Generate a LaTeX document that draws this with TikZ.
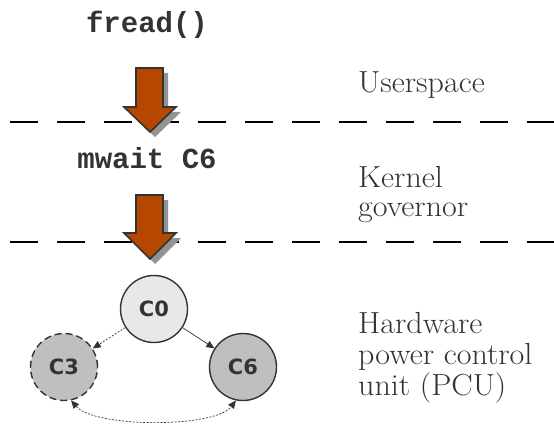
\documentclass[tikz,border=0pt]{standalone}
\usepackage{fontspec}
\setmainfont{Latin Modern Roman}
\newfontfamily\lblfont[FakeStretch=1.05]{Latin Modern Roman}
\newfontfamily\codefont{Liberation Mono}
\newfontfamily\statefont{DejaVu Sans}
\usetikzlibrary{arrows.meta}
\definecolor{txtgray}{HTML}{333333}
\definecolor{lblgray}{HTML}{333333}
\definecolor{arrowfill}{HTML}{B54700}
\begin{document}
\begin{tikzpicture}[x=1pt,y=-1pt,
  code/.style={font=\codefont\bfseries\fontsize{29}{30}\selectfont, text=txtgray, inner sep=0pt, anchor=base},
  lbl/.style={font=\lblfont\fontsize{30.5}{31}\selectfont, text=lblgray, anchor=base west, inner sep=0pt},
  sepline/.style={line width=1.6pt, dash pattern=on 28pt off 19pt},
  state/.style={circle, draw=txtgray, line width=1.4pt, minimum size=67pt, inner sep=0pt, font=\statefont\bfseries\fontsize{21}{22}\selectfont, text=txtgray},
  conn/.style={-{Triangle[length=8pt,width=7pt]}, line width=0.7pt, draw=txtgray},
  dots/.style={dash pattern=on 2pt off 1.5pt},
  blockarrow/.style={fill=arrowfill, draw=txtgray, line width=1.6pt, line join=miter}
]
\useasboundingbox (0,0) rectangle (554,425);

\node[code] (fread) at (147,33) {fread()};
\node[code] (mwait) at (147,168) {mwait C6};

\node[lbl] (user) at (358,93) {Userspace};
\node[lbl] (kern1) at (358,187) {Kernel};
\node[lbl] (kern2) at (358,216) {governor};
\node[lbl] (hw1) at (358,333) {Hardware};
\node[lbl] (hw2) at (358,364) {power control};
\node[lbl] (hw3) at (358,395) {unit (PCU)};

\draw[sepline] (10,122) -- (554,122);
\draw[sepline] (10,242) -- (554,242);

% block arrows with shadow
\foreach \t/\h/\b in {68/107/132, 195/233/259}{
  \fill[gray!85] (136+5,\t+5) -- (163+5,\t+5) -- (163+5,\h+5) -- (176+5,\h+5) -- (150+5,\b+5) -- (124+5,\h+5) -- (136+5,\h+5) -- cycle;
  \draw[blockarrow] (136,\t) -- (163,\t) -- (163,\h) -- (176,\h) -- (150,\b) -- (124,\h) -- (136,\h) -- cycle;
}

\node[state, fill=gray!18] (c0) at (154,309) {C0};
\node[state, fill=gray!50, dashed, dash pattern=on 7pt off 4pt] (c3) at (64,367) {C3};
\node[state, fill=gray!50] (c6) at (243,367) {C6};

\draw[conn, dots] (c0) -- (c3);
\draw[conn] (c0) -- (c6);
\draw[conn, dots, {Triangle[length=8pt,width=7pt]}-{Triangle[length=8pt,width=7pt]}]
  (c3.-78) .. controls (95,428) and (215,428) .. (c6.-102);
\end{tikzpicture}
\end{document}
